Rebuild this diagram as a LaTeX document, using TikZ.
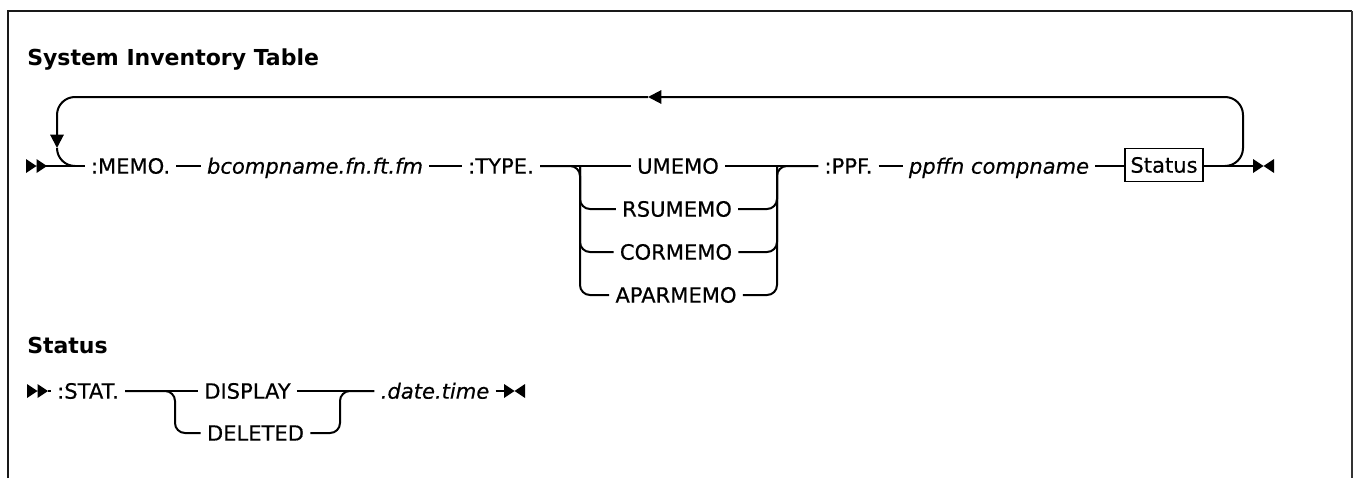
\documentclass[tikz,border=0pt]{standalone}
\usepackage{fontspec}
\setmainfont{DejaVu Sans}
\newfontfamily\railfont{DejaVu Sans}[FakeBold=0.5]
\usetikzlibrary{arrows.meta}

\tikzset{
  rail/.style={line width=1.5pt},
  kw/.style={inner xsep=4.5pt, inner ysep=0pt, text height=11.5pt, text depth=0pt,
    font=\railfont\fontsize{15.8}{18}\selectfont},
  var/.style={kw, font=\railfont\fontsize{15.8}{18}\selectfont\itshape},
  refbox/.style={kw, draw, line width=1.3pt, minimum width=58.5pt, minimum height=24.75pt, inner xsep=0pt},
  heading/.style={anchor=base west, inner sep=0pt, font=\fontsize{16.5}{19}\selectfont\bfseries},
  looptip/.style={-{Triangle[length=10pt,width=10pt]}},
  startmark/.pic={\fill (0,-7) -- (10.5,0) -- (0,7) -- cycle (10.5,-7) -- (21,0) -- (10.5,7) -- cycle;},
  endmark/.pic={\fill (0,-7) -- (10.5,0) -- (0,7) -- cycle (21,-7) -- (10.5,0) -- (21,7) -- cycle;}
}

\begin{document}
\begin{tikzpicture}[x=0.75pt, y=-0.75pt]
\useasboundingbox (0,0) rectangle (1355,478);
% Frame
\draw[line width=1.6pt, black!90] (8,478) -- (8,11) -- (1352,11);
\draw[line width=0.9pt, black!80] (1352,11) -- (1352,478);

% System Inventory Table
\node[heading] (title) at (27,65) {System Inventory Table};
\pic at (26,166) {startmark};
\coordinate (mainin) at (46,166);
\node[kw] (memo) at (130.5,166) {:MEMO.};
\node[var] (bcomp) at (315,166) {bcompname.fn.ft.fm};
\node[kw] (type) at (501,166) {:TYPE.};
\node[kw] (umemo) at (678,166) {UMEMO};
\node[kw] (rsumemo) at (677,209) {RSUMEMO};
\node[kw] (cormemo) at (676,252) {CORMEMO};
\node[kw] (aparmemo) at (676,295) {APARMEMO};
\node[kw] (ppf) at (848.5,166) {:PPF.};
\node[var] (ppffn) at (999,166) {ppffn compname};
\node[refbox] (status) at (1164,165) {Status};
\coordinate (mainout) at (1253,166);
\pic at (1253,166) {endmark};
\coordinate (typefork) at (580,166);
\coordinate (ppffork) at (777,166);

\draw[rail] (mainin) -- (memo);
\draw[rail] (memo) -- (bcomp);
\draw[rail] (bcomp) -- (type);
\draw[rail] (type) -- (umemo);
\draw[rail] (umemo) -- (ppf);
\draw[rail] (ppf) -- (ppffn);
\draw[rail] (ppffn) -- (ppffn -| status.west);
\draw[rail] (mainout -| status.east) -- (mainout);

% choices of :TYPE.
\draw[rail, rounded corners=7.5pt] (type.east) -| (aparmemo.west -| typefork) -- (aparmemo.west);
\draw[rail, rounded corners=7.5pt] (typefork) |- (rsumemo.west);
\draw[rail, rounded corners=7.5pt] (typefork) |- (cormemo.west);
\draw[rail, rounded corners=7.5pt] (aparmemo.east) -| (ppffork) -- (ppf.west);
\draw[rail, rounded corners=7.5pt] (rsumemo.east) -| (ppffork);
\draw[rail, rounded corners=7.5pt] (cormemo.east) -| (ppffork);

% repeat loop
\coordinate (loopin) at (1225,166);
\coordinate (loopne) at (1243,97);
\coordinate (looptop) at (648,97);
\coordinate (loopleft) at (57,148);
\coordinate (loopout) at (75,166);
\draw[rail, looptip, rounded corners=13.5pt] (loopin) -| (loopne) -- (looptop);
\draw[rail, looptip, rounded corners=13.5pt] (looptop) -| (loopleft);
\draw[rail, rounded corners=13.5pt] (loopleft) |- (loopout);

% Status
\node[heading] (stitle) at (27,353) {Status};
\pic at (27,391) {startmark};
\coordinate (statin) at (48,391);
\node[kw] (stat) at (88,391) {:STAT.};
\node[kw] (display) at (247.5,391) {DISPLAY};
\node[kw] (deleted) at (255.5,433) {DELETED};
\node[var] (datetime) at (435,391) {.date.time};
\coordinate (statout) at (504,391);
\pic at (504,391) {endmark};
\coordinate (statfork) at (175,391);
\coordinate (datefork) at (340,391);

\draw[rail] (statin) -- (stat);
\draw[rail] (stat) -- (display);
\draw[rail] (display) -- (datetime);
\draw[rail] (datetime) -- (statout);
\draw[rail, rounded corners=7.5pt] (stat.east) -| (deleted.west -| statfork) -- (deleted.west);
\draw[rail, rounded corners=7.5pt] (deleted.east) -| (datefork) -- (datetime.west);
\end{tikzpicture}
\end{document}
